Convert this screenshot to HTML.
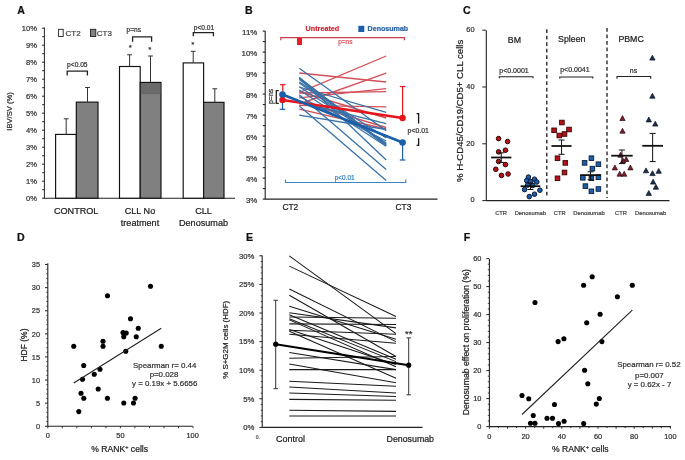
<!DOCTYPE html><html><head><meta charset="utf-8"><title>Figure</title><style>html,body{margin:0;padding:0;background:#fff;overflow:hidden}svg{display:block;filter:blur(0.3px)}text{font-family:"Liberation Sans",sans-serif;stroke:currentColor;stroke-width:0.22px;stroke-linejoin:round}</style></head><body>
<svg width="685" height="460" viewBox="0 0 685 460">
<rect width="685" height="460" fill="#fff"/>
<text x="17.2" y="13.92" font-size="10.6" text-anchor="start" font-weight="bold" fill="#111" color="#111" >A</text>
<line x1="44.4" y1="27.5" x2="44.4" y2="198.7" stroke="#222" stroke-width="1" />
<line x1="44.4" y1="198.2" x2="235" y2="198.2" stroke="#222" stroke-width="1.1" />
<line x1="42.1" y1="198.2" x2="44.4" y2="198.2" stroke="#222" stroke-width="1" />
<text x="37" y="200.94" font-size="7.6" text-anchor="end" font-weight="normal" fill="#333" color="#333" >0%</text>
<line x1="42.2" y1="189.7" x2="44.4" y2="189.7" stroke="#222" stroke-width="1" />
<line x1="42.1" y1="181.2" x2="44.4" y2="181.2" stroke="#222" stroke-width="1" />
<text x="37" y="183.94" font-size="7.6" text-anchor="end" font-weight="normal" fill="#333" color="#333" >1%</text>
<line x1="42.2" y1="172.7" x2="44.4" y2="172.7" stroke="#222" stroke-width="1" />
<line x1="42.1" y1="164.2" x2="44.4" y2="164.2" stroke="#222" stroke-width="1" />
<text x="37" y="166.94" font-size="7.6" text-anchor="end" font-weight="normal" fill="#333" color="#333" >2%</text>
<line x1="42.2" y1="155.7" x2="44.4" y2="155.7" stroke="#222" stroke-width="1" />
<line x1="42.1" y1="147.2" x2="44.4" y2="147.2" stroke="#222" stroke-width="1" />
<text x="37" y="149.94" font-size="7.6" text-anchor="end" font-weight="normal" fill="#333" color="#333" >3%</text>
<line x1="42.2" y1="138.7" x2="44.4" y2="138.7" stroke="#222" stroke-width="1" />
<line x1="42.1" y1="130.2" x2="44.4" y2="130.2" stroke="#222" stroke-width="1" />
<text x="37" y="132.94" font-size="7.6" text-anchor="end" font-weight="normal" fill="#333" color="#333" >4%</text>
<line x1="42.2" y1="121.7" x2="44.4" y2="121.7" stroke="#222" stroke-width="1" />
<line x1="42.1" y1="113.2" x2="44.4" y2="113.2" stroke="#222" stroke-width="1" />
<text x="37" y="115.94" font-size="7.6" text-anchor="end" font-weight="normal" fill="#333" color="#333" >5%</text>
<line x1="42.2" y1="104.7" x2="44.4" y2="104.7" stroke="#222" stroke-width="1" />
<line x1="42.1" y1="96.2" x2="44.4" y2="96.2" stroke="#222" stroke-width="1" />
<text x="37" y="98.94" font-size="7.6" text-anchor="end" font-weight="normal" fill="#333" color="#333" >6%</text>
<line x1="42.2" y1="87.7" x2="44.4" y2="87.7" stroke="#222" stroke-width="1" />
<line x1="42.1" y1="79.2" x2="44.4" y2="79.2" stroke="#222" stroke-width="1" />
<text x="37" y="81.94" font-size="7.6" text-anchor="end" font-weight="normal" fill="#333" color="#333" >7%</text>
<line x1="42.2" y1="70.7" x2="44.4" y2="70.7" stroke="#222" stroke-width="1" />
<line x1="42.1" y1="62.2" x2="44.4" y2="62.2" stroke="#222" stroke-width="1" />
<text x="37" y="64.94" font-size="7.6" text-anchor="end" font-weight="normal" fill="#333" color="#333" >8%</text>
<line x1="42.2" y1="53.7" x2="44.4" y2="53.7" stroke="#222" stroke-width="1" />
<line x1="42.1" y1="45.2" x2="44.4" y2="45.2" stroke="#222" stroke-width="1" />
<text x="37" y="47.94" font-size="7.6" text-anchor="end" font-weight="normal" fill="#333" color="#333" >9%</text>
<line x1="42.2" y1="36.7" x2="44.4" y2="36.7" stroke="#222" stroke-width="1" />
<line x1="42.1" y1="28.2" x2="44.4" y2="28.2" stroke="#222" stroke-width="1" />
<text x="37" y="30.94" font-size="7.6" text-anchor="end" font-weight="normal" fill="#333" color="#333" >10%</text>
<text x="9.5" y="114.24" font-size="7.6" text-anchor="middle" font-weight="normal" fill="#333" color="#333" transform="rotate(-90 9.5 111.5)" >IBV/SV (%)</text>
<rect x="55.6" y="134.4" width="20.7" height="63.8" fill="#fff" stroke="#111" stroke-width="1.15" />
<rect x="76.3" y="102.1" width="21.7" height="96.1" fill="#808080" stroke="#111" stroke-width="1.15" />
<rect x="119.5" y="66.5" width="20.7" height="131.7" fill="#fff" stroke="#111" stroke-width="1.15" />
<rect x="140.2" y="82.4" width="20.8" height="115.8" fill="#808080" stroke="#111" stroke-width="1.15" />
<rect x="183.2" y="62.9" width="20.4" height="135.3" fill="#fff" stroke="#111" stroke-width="1.15" />
<rect x="203.6" y="102.3" width="20.4" height="95.9" fill="#808080" stroke="#111" stroke-width="1.15" />
<rect x="140.9" y="83" width="19.4" height="11.2" fill="#6a6a6a" stroke="none" stroke-width="1" />
<line x1="66.2" y1="118.8" x2="66.2" y2="134.4" stroke="#333" stroke-width="1" />
<line x1="63.8" y1="118.8" x2="68.6" y2="118.8" stroke="#333" stroke-width="1" />
<line x1="87.5" y1="87.5" x2="87.5" y2="102.1" stroke="#333" stroke-width="1" />
<line x1="85.1" y1="87.5" x2="89.9" y2="87.5" stroke="#333" stroke-width="1" />
<line x1="129.6" y1="54.8" x2="129.6" y2="66.5" stroke="#333" stroke-width="1" />
<line x1="127.2" y1="54.8" x2="132" y2="54.8" stroke="#333" stroke-width="1" />
<line x1="150.5" y1="56" x2="150.5" y2="82.4" stroke="#333" stroke-width="1" />
<line x1="148.1" y1="56" x2="152.9" y2="56" stroke="#333" stroke-width="1" />
<line x1="193.2" y1="51.3" x2="193.2" y2="62.9" stroke="#333" stroke-width="1" />
<line x1="190.8" y1="51.3" x2="195.6" y2="51.3" stroke="#333" stroke-width="1" />
<line x1="214.8" y1="88.8" x2="214.8" y2="102.3" stroke="#333" stroke-width="1" />
<line x1="212.4" y1="88.8" x2="217.2" y2="88.8" stroke="#333" stroke-width="1" />
<text x="130.2" y="50.18" font-size="8" text-anchor="middle" font-weight="normal" fill="#333" color="#333" >*</text>
<text x="149.7" y="51.88" font-size="8" text-anchor="middle" font-weight="normal" fill="#333" color="#333" >*</text>
<text x="192.8" y="46.68" font-size="8" text-anchor="middle" font-weight="normal" fill="#333" color="#333" >*</text>
<path d="M67.2 75.6 V71.2 H87.4 V75.6" stroke="#222" stroke-width="1.3" fill="none" />
<text x="77.3" y="66.98" font-size="6.6" text-anchor="middle" font-weight="normal" fill="#333" color="#333" >p&lt;0.05</text>
<path d="M132.6 41.8 V36.8 H151.6 V41.8" stroke="#222" stroke-width="1.3" fill="none" />
<text x="133.8" y="31.98" font-size="6.6" text-anchor="middle" font-weight="normal" fill="#333" color="#333" >p=ns</text>
<path d="M193.3 36.2 V32.7 H213.4 V36.2" stroke="#222" stroke-width="1.3" fill="none" />
<text x="203.9" y="29.78" font-size="6.6" text-anchor="middle" font-weight="normal" fill="#333" color="#333" >p&lt;0.01</text>
<rect x="58.6" y="29.3" width="4.6" height="7.2" fill="#fff" stroke="#222" stroke-width="0.9" />
<text x="65.5" y="36.08" font-size="8" text-anchor="start" font-weight="normal" fill="#444" color="#444" >CT2</text>
<rect x="90.5" y="29.3" width="5.3" height="7.2" fill="#808080" stroke="#222" stroke-width="0.9" />
<text x="96.8" y="36.08" font-size="8" text-anchor="start" font-weight="normal" fill="#444" color="#444" >CT3</text>
<text x="76.2" y="213.98" font-size="9.1" text-anchor="middle" font-weight="normal" fill="#222" color="#222" >CONTROL</text>
<text x="140" y="213.98" font-size="9.1" text-anchor="middle" font-weight="normal" fill="#222" color="#222" >CLL No</text>
<text x="140" y="225.58" font-size="9.1" text-anchor="middle" font-weight="normal" fill="#222" color="#222" >treatment</text>
<text x="203.5" y="213.98" font-size="9.1" text-anchor="middle" font-weight="normal" fill="#222" color="#222" >CLL</text>
<text x="203.5" y="225.58" font-size="9.1" text-anchor="middle" font-weight="normal" fill="#222" color="#222" >Denosumab</text>
<text x="245" y="13.92" font-size="10.6" text-anchor="start" font-weight="bold" fill="#111" color="#111" >B</text>
<line x1="265.2" y1="31" x2="265.2" y2="199.6" stroke="#222" stroke-width="1.1" />
<line x1="265.2" y1="199.1" x2="437.5" y2="199.1" stroke="#222" stroke-width="1.1" />
<line x1="262.7" y1="199.1" x2="265.2" y2="199.1" stroke="#222" stroke-width="1.1" />
<text x="257.3" y="202.74" font-size="7.9" text-anchor="end" font-weight="normal" fill="#333" color="#333" >3%</text>
<line x1="262.8" y1="188.6" x2="265.2" y2="188.6" stroke="#222" stroke-width="1.1" />
<line x1="262.7" y1="178.1" x2="265.2" y2="178.1" stroke="#222" stroke-width="1.1" />
<text x="257.3" y="181.74" font-size="7.9" text-anchor="end" font-weight="normal" fill="#333" color="#333" >4%</text>
<line x1="262.8" y1="167.6" x2="265.2" y2="167.6" stroke="#222" stroke-width="1.1" />
<line x1="262.7" y1="157.1" x2="265.2" y2="157.1" stroke="#222" stroke-width="1.1" />
<text x="257.3" y="160.74" font-size="7.9" text-anchor="end" font-weight="normal" fill="#333" color="#333" >5%</text>
<line x1="262.8" y1="146.6" x2="265.2" y2="146.6" stroke="#222" stroke-width="1.1" />
<line x1="262.7" y1="136.1" x2="265.2" y2="136.1" stroke="#222" stroke-width="1.1" />
<text x="257.3" y="139.74" font-size="7.9" text-anchor="end" font-weight="normal" fill="#333" color="#333" >6%</text>
<line x1="262.8" y1="125.6" x2="265.2" y2="125.6" stroke="#222" stroke-width="1.1" />
<line x1="262.7" y1="115.1" x2="265.2" y2="115.1" stroke="#222" stroke-width="1.1" />
<text x="257.3" y="118.74" font-size="7.9" text-anchor="end" font-weight="normal" fill="#333" color="#333" >7%</text>
<line x1="262.8" y1="104.6" x2="265.2" y2="104.6" stroke="#222" stroke-width="1.1" />
<line x1="262.7" y1="94.1" x2="265.2" y2="94.1" stroke="#222" stroke-width="1.1" />
<text x="257.3" y="97.74" font-size="7.9" text-anchor="end" font-weight="normal" fill="#333" color="#333" >8%</text>
<line x1="262.8" y1="83.6" x2="265.2" y2="83.6" stroke="#222" stroke-width="1.1" />
<line x1="262.7" y1="73.1" x2="265.2" y2="73.1" stroke="#222" stroke-width="1.1" />
<text x="257.3" y="76.74" font-size="7.9" text-anchor="end" font-weight="normal" fill="#333" color="#333" >9%</text>
<line x1="262.8" y1="62.6" x2="265.2" y2="62.6" stroke="#222" stroke-width="1.1" />
<line x1="262.7" y1="52.1" x2="265.2" y2="52.1" stroke="#222" stroke-width="1.1" />
<text x="257.3" y="55.74" font-size="7.9" text-anchor="end" font-weight="normal" fill="#333" color="#333" >10%</text>
<line x1="262.8" y1="41.6" x2="265.2" y2="41.6" stroke="#222" stroke-width="1.1" />
<line x1="262.7" y1="31.1" x2="265.2" y2="31.1" stroke="#222" stroke-width="1.1" />
<text x="257.3" y="34.74" font-size="7.9" text-anchor="end" font-weight="normal" fill="#333" color="#333" >11%</text>
<text x="290.3" y="210.22" font-size="8.4" text-anchor="middle" font-weight="normal" fill="#222" color="#222" >CT2</text>
<text x="403.4" y="210.22" font-size="8.4" text-anchor="middle" font-weight="normal" fill="#222" color="#222" >CT3</text>
<line x1="299.3" y1="92.6" x2="386.2" y2="56" stroke="#d4505a" stroke-width="1.35" />
<line x1="299.3" y1="104" x2="386.2" y2="73.2" stroke="#d4505a" stroke-width="1.35" />
<line x1="299.3" y1="73" x2="386.2" y2="82" stroke="#d4505a" stroke-width="1.35" />
<line x1="299.3" y1="97.9" x2="386.2" y2="88.6" stroke="#d4505a" stroke-width="1.35" />
<line x1="299.3" y1="93" x2="386.2" y2="91.6" stroke="#d4505a" stroke-width="1.35" />
<line x1="299.3" y1="105.3" x2="386.2" y2="106.8" stroke="#d4505a" stroke-width="1.35" />
<line x1="299.3" y1="101.3" x2="386.2" y2="127.5" stroke="#d4505a" stroke-width="1.35" />
<line x1="299.3" y1="109.1" x2="386.2" y2="129" stroke="#d4505a" stroke-width="1.35" />
<line x1="299.3" y1="91.5" x2="386.2" y2="118" stroke="#d4505a" stroke-width="1.35" />
<line x1="299.3" y1="68.2" x2="386.2" y2="130.8" stroke="#3872a8" stroke-width="1.3" />
<line x1="299.3" y1="77.5" x2="386.2" y2="160" stroke="#3872a8" stroke-width="1.3" />
<line x1="299.3" y1="94.8" x2="386.2" y2="169.4" stroke="#3872a8" stroke-width="1.3" />
<line x1="299.3" y1="105.9" x2="386.2" y2="180.5" stroke="#3872a8" stroke-width="1.3" />
<line x1="299.3" y1="87" x2="386.2" y2="112.3" stroke="#3872a8" stroke-width="1.3" />
<line x1="299.3" y1="102" x2="386.2" y2="123.7" stroke="#3872a8" stroke-width="1.3" />
<line x1="299.3" y1="115.1" x2="386.2" y2="129.5" stroke="#3872a8" stroke-width="1.3" />
<line x1="299.3" y1="77.6" x2="386.2" y2="144.6" stroke="#3872a8" stroke-width="1.3" />
<line x1="299.3" y1="78.5" x2="386.2" y2="145.2" stroke="#3872a8" stroke-width="1.3" />
<line x1="299.3" y1="79.5" x2="386.2" y2="145.9" stroke="#3872a8" stroke-width="1.3" />
<line x1="299.3" y1="86.7" x2="386.2" y2="143" stroke="#3872a8" stroke-width="1.3" />
<line x1="299.3" y1="96.5" x2="386.2" y2="141" stroke="#3872a8" stroke-width="1.3" />
<line x1="299.3" y1="82" x2="386.2" y2="138" stroke="#3872a8" stroke-width="1.3" />
<line x1="299.3" y1="83" x2="386.2" y2="143.8" stroke="#3872a8" stroke-width="1.3" />
<line x1="299.3" y1="90" x2="386.2" y2="146.3" stroke="#3872a8" stroke-width="1.3" />
<line x1="282.5" y1="100" x2="402.5" y2="118" stroke="#e8141c" stroke-width="2.6" />
<line x1="282.5" y1="94.5" x2="402.5" y2="142.5" stroke="#1a5fa8" stroke-width="2.8" />
<line x1="282.8" y1="84.7" x2="282.8" y2="100" stroke="#e8141c" stroke-width="1.2" />
<line x1="280" y1="84.7" x2="285.6" y2="84.7" stroke="#e8141c" stroke-width="1.2" />
<line x1="282.5" y1="94.5" x2="282.5" y2="109.3" stroke="#1a5fa8" stroke-width="1.2" />
<line x1="279.7" y1="109.3" x2="285.3" y2="109.3" stroke="#1a5fa8" stroke-width="1.2" />
<line x1="402.6" y1="86.5" x2="402.6" y2="118" stroke="#e8141c" stroke-width="1.2" />
<line x1="399.8" y1="86.5" x2="405.4" y2="86.5" stroke="#e8141c" stroke-width="1.2" />
<line x1="402.6" y1="142.5" x2="402.6" y2="160" stroke="#1a5fa8" stroke-width="1.2" />
<line x1="399.8" y1="160" x2="405.4" y2="160" stroke="#1a5fa8" stroke-width="1.2" />
<circle cx="282.5" cy="100" r="3.2" fill="#e8141c" stroke="none" stroke-width="1"/>
<circle cx="282.5" cy="94.5" r="3.3" fill="#1a5fa8" stroke="none" stroke-width="1"/>
<circle cx="402.6" cy="118" r="3.2" fill="#e8141c" stroke="none" stroke-width="1"/>
<circle cx="402.6" cy="142.5" r="3.3" fill="#1a5fa8" stroke="none" stroke-width="1"/>
<text x="322.4" y="31.39" font-size="7.2" text-anchor="middle" font-weight="bold" fill="#d42a3a" color="#d42a3a" >Untreated</text>
<rect x="358.3" y="25.8" width="6" height="6.2" fill="#1a5fa8" stroke="none" stroke-width="1" />
<text x="367.6" y="31.36" font-size="7.1" text-anchor="start" font-weight="bold" fill="#2c64a6" color="#2c64a6" >Denosumab</text>
<path d="M280.8 40.2 V37.6 H404.4 V40.2" stroke="#c8404c" stroke-width="1.2" fill="none" />
<rect x="297" y="38" width="5" height="7" fill="#ee1c24" stroke="none" stroke-width="1" />
<text x="345.3" y="43.64" font-size="6.5" text-anchor="middle" font-weight="normal" fill="#e0555a" color="#e0555a" >p=ns</text>
<path d="M285.5 179.5 V182.5 H405.8 V179.5" stroke="#3a84c4" stroke-width="1.1" fill="none" />
<text x="344.7" y="179.84" font-size="6.5" text-anchor="middle" font-weight="normal" fill="#3a84c4" color="#3a84c4" >p&lt;0.01</text>
<path d="M278.8 90.6 H276.3 V103.3 H278.8" stroke="#222" stroke-width="1.3" fill="none" />
<text x="270.2" y="98.88" font-size="6.9" text-anchor="middle" font-weight="normal" fill="#333" color="#333" transform="rotate(-90 270.2 96.4)" >p=ns</text>
<path d="M416.6 113.6 H418.6 V123.5" stroke="#1a1a1a" stroke-width="1.35" fill="none" />
<path d="M418.6 138.3 V145.4 H416.6" stroke="#1a1a1a" stroke-width="1.35" fill="none" />
<text x="418.2" y="132.78" font-size="6.9" text-anchor="middle" font-weight="normal" fill="#333" color="#333" >p&lt;0.01</text>
<text x="463" y="13.92" font-size="10.6" text-anchor="start" font-weight="bold" fill="#111" color="#111" >C</text>
<line x1="486.3" y1="30.5" x2="486.3" y2="201.1" stroke="#222" stroke-width="1.1" />
<line x1="486.3" y1="200.6" x2="669.5" y2="200.6" stroke="#222" stroke-width="1.1" />
<line x1="482.3" y1="200.6" x2="486.3" y2="200.6" stroke="#222" stroke-width="1" />
<text x="474.6" y="202.46" font-size="7.4" text-anchor="end" font-weight="normal" fill="#333" color="#333" >0</text>
<line x1="482.3" y1="143.8" x2="486.3" y2="143.8" stroke="#222" stroke-width="1" />
<text x="474.6" y="145.66" font-size="7.4" text-anchor="end" font-weight="normal" fill="#333" color="#333" >20</text>
<line x1="482.3" y1="87" x2="486.3" y2="87" stroke="#222" stroke-width="1" />
<text x="474.6" y="88.86" font-size="7.4" text-anchor="end" font-weight="normal" fill="#333" color="#333" >40</text>
<line x1="482.3" y1="30.2" x2="486.3" y2="30.2" stroke="#222" stroke-width="1" />
<text x="474.6" y="32.06" font-size="7.4" text-anchor="end" font-weight="normal" fill="#333" color="#333" >60</text>
<text x="459.8" y="114.36" font-size="9.6" text-anchor="middle" font-weight="normal" fill="#222" color="#222" transform="rotate(-90 459.8 110.9)" >% H-CD45/CD19/CD5+ CLL cells</text>
<line x1="546.8" y1="29.2" x2="546.8" y2="198" stroke="#1a1a1a" stroke-width="1.3" stroke-dasharray="3.8 2.7"/>
<line x1="607" y1="28" x2="607" y2="198" stroke="#1a1a1a" stroke-width="1.3" stroke-dasharray="3.8 2.7"/>
<text x="514.4" y="42.67" font-size="8.8" text-anchor="middle" font-weight="normal" fill="#222" color="#222" >BM</text>
<text x="571.8" y="42.27" font-size="8.8" text-anchor="middle" font-weight="normal" fill="#222" color="#222" >Spleen</text>
<text x="631.1" y="42.27" font-size="8.8" text-anchor="middle" font-weight="normal" fill="#222" color="#222" >PBMC</text>
<text x="514" y="73.32" font-size="7" text-anchor="middle" font-weight="normal" fill="#333" color="#333" >p&lt;0.0001</text>
<path d="M499.3 78.3 V76.8 H533 V78.3" stroke="#222" stroke-width="1.1" fill="none" />
<text x="574.9" y="72.12" font-size="7" text-anchor="middle" font-weight="normal" fill="#333" color="#333" >p&lt;0.0041</text>
<path d="M559.8 78.5 V77 H592.8 V78.5" stroke="#222" stroke-width="1.1" fill="none" />
<text x="633.5" y="72.52" font-size="7" text-anchor="middle" font-weight="normal" fill="#333" color="#333" >ns</text>
<path d="M617 78.7 V76.5 H650.7 V78.7" stroke="#222" stroke-width="1.1" fill="none" />
<circle cx="498.6" cy="138.6" r="2.3" fill="#b81218" stroke="#300404" stroke-width="1.0"/>
<circle cx="507.6" cy="141.5" r="2.3" fill="#b81218" stroke="#300404" stroke-width="1.0"/>
<circle cx="498.6" cy="151.9" r="2.3" fill="#b81218" stroke="#300404" stroke-width="1.0"/>
<circle cx="505.5" cy="150.2" r="2.3" fill="#b81218" stroke="#300404" stroke-width="1.0"/>
<circle cx="498.6" cy="161.5" r="2.3" fill="#b81218" stroke="#300404" stroke-width="1.0"/>
<circle cx="505.5" cy="164.6" r="2.3" fill="#b81218" stroke="#300404" stroke-width="1.0"/>
<circle cx="495.8" cy="169.3" r="2.3" fill="#b81218" stroke="#300404" stroke-width="1.0"/>
<circle cx="501.5" cy="175.4" r="2.3" fill="#b81218" stroke="#300404" stroke-width="1.0"/>
<circle cx="508.1" cy="174" r="2.3" fill="#b81218" stroke="#300404" stroke-width="1.0"/>
<circle cx="528.4" cy="177.1" r="2.3" fill="#1f5ca6" stroke="#081a36" stroke-width="1.0"/>
<circle cx="534.5" cy="179.2" r="2.3" fill="#1f5ca6" stroke="#081a36" stroke-width="1.0"/>
<circle cx="526.7" cy="180.6" r="2.3" fill="#1f5ca6" stroke="#081a36" stroke-width="1.0"/>
<circle cx="530.5" cy="181.5" r="2.3" fill="#1f5ca6" stroke="#081a36" stroke-width="1.0"/>
<circle cx="536.8" cy="182" r="2.3" fill="#1f5ca6" stroke="#081a36" stroke-width="1.0"/>
<circle cx="527.6" cy="185" r="2.3" fill="#1f5ca6" stroke="#081a36" stroke-width="1.0"/>
<circle cx="532.8" cy="185.5" r="2.3" fill="#1f5ca6" stroke="#081a36" stroke-width="1.0"/>
<circle cx="524.6" cy="189.6" r="2.3" fill="#1f5ca6" stroke="#081a36" stroke-width="1.0"/>
<circle cx="539.9" cy="190.2" r="2.3" fill="#1f5ca6" stroke="#081a36" stroke-width="1.0"/>
<circle cx="534.5" cy="194.2" r="2.3" fill="#1f5ca6" stroke="#081a36" stroke-width="1.0"/>
<circle cx="529.3" cy="196.6" r="2.3" fill="#1f5ca6" stroke="#081a36" stroke-width="1.0"/>
<line x1="491.1" y1="157.5" x2="511.4" y2="157.5" stroke="#111" stroke-width="1.8" />
<line x1="501.25" y1="152.8" x2="501.25" y2="162.4" stroke="#111" stroke-width="1" />
<line x1="498.25" y1="152.8" x2="504.25" y2="152.8" stroke="#111" stroke-width="1" />
<line x1="498.25" y1="162.4" x2="504.25" y2="162.4" stroke="#111" stroke-width="1" />
<line x1="520.6" y1="186.2" x2="540.3" y2="186.2" stroke="#111" stroke-width="1.8" />
<line x1="530.45" y1="183" x2="530.45" y2="189.5" stroke="#111" stroke-width="1" />
<line x1="527.45" y1="183" x2="533.45" y2="183" stroke="#111" stroke-width="1" />
<line x1="527.45" y1="189.5" x2="533.45" y2="189.5" stroke="#111" stroke-width="1" />
<rect x="559.6" y="120.2" width="4.6" height="4.6" fill="#b81218" stroke="#3a0505" stroke-width="0.9" />
<rect x="551.8" y="128" width="4.6" height="4.6" fill="#b81218" stroke="#3a0505" stroke-width="0.9" />
<rect x="566.7" y="127.2" width="4.6" height="4.6" fill="#b81218" stroke="#3a0505" stroke-width="0.9" />
<rect x="557" y="133.2" width="4.6" height="4.6" fill="#b81218" stroke="#3a0505" stroke-width="0.9" />
<rect x="562.2" y="131.7" width="4.6" height="4.6" fill="#b81218" stroke="#3a0505" stroke-width="0.9" />
<rect x="555.2" y="155.9" width="4.6" height="4.6" fill="#b81218" stroke="#3a0505" stroke-width="0.9" />
<rect x="563" y="160.6" width="4.6" height="4.6" fill="#b81218" stroke="#3a0505" stroke-width="0.9" />
<rect x="562.2" y="170.2" width="4.6" height="4.6" fill="#b81218" stroke="#3a0505" stroke-width="0.9" />
<rect x="555.2" y="176" width="4.6" height="4.6" fill="#b81218" stroke="#3a0505" stroke-width="0.9" />
<rect x="589.1" y="155.9" width="4.6" height="4.6" fill="#1f5ca6" stroke="#0a2040" stroke-width="0.9" />
<rect x="582.3" y="160.6" width="4.6" height="4.6" fill="#1f5ca6" stroke="#0a2040" stroke-width="0.9" />
<rect x="596.1" y="161.9" width="4.6" height="4.6" fill="#1f5ca6" stroke="#0a2040" stroke-width="0.9" />
<rect x="590.1" y="166.3" width="4.6" height="4.6" fill="#1f5ca6" stroke="#0a2040" stroke-width="0.9" />
<rect x="580.5" y="175.5" width="4.6" height="4.6" fill="#1f5ca6" stroke="#0a2040" stroke-width="0.9" />
<rect x="596.1" y="174.9" width="4.6" height="4.6" fill="#1f5ca6" stroke="#0a2040" stroke-width="0.9" />
<rect x="589.1" y="176" width="4.6" height="4.6" fill="#1f5ca6" stroke="#0a2040" stroke-width="0.9" />
<rect x="583.1" y="183.8" width="4.6" height="4.6" fill="#1f5ca6" stroke="#0a2040" stroke-width="0.9" />
<rect x="596.1" y="186.7" width="4.6" height="4.6" fill="#1f5ca6" stroke="#0a2040" stroke-width="0.9" />
<rect x="589.1" y="189" width="4.6" height="4.6" fill="#1f5ca6" stroke="#0a2040" stroke-width="0.9" />
<line x1="551.5" y1="146" x2="571.6" y2="146" stroke="#111" stroke-width="1.8" />
<line x1="561.55" y1="140" x2="561.55" y2="154.3" stroke="#111" stroke-width="1" />
<line x1="558.55" y1="140" x2="564.55" y2="140" stroke="#111" stroke-width="1" />
<line x1="558.55" y1="154.3" x2="564.55" y2="154.3" stroke="#111" stroke-width="1" />
<line x1="580.2" y1="175.1" x2="601" y2="175.1" stroke="#111" stroke-width="1.8" />
<line x1="590.6" y1="171.8" x2="590.6" y2="179.8" stroke="#111" stroke-width="1" />
<line x1="587.6" y1="171.8" x2="593.6" y2="171.8" stroke="#111" stroke-width="1" />
<line x1="587.6" y1="179.8" x2="593.6" y2="179.8" stroke="#111" stroke-width="1" />
<path d="M622.5 115.6 L625.16 120.5 L619.84 120.5 Z" stroke="#2a0a10" stroke-width="0.7" fill="#7a1f2c" />
<path d="M622.5 128.3 L625.16 133.2 L619.84 133.2 Z" stroke="#2a0a10" stroke-width="0.7" fill="#7a1f2c" />
<path d="M620.5 152.3 L623.16 157.2 L617.84 157.2 Z" stroke="#2a0a10" stroke-width="0.7" fill="#7a1f2c" />
<path d="M626.2 156.6 L628.86 161.5 L623.54 161.5 Z" stroke="#2a0a10" stroke-width="0.7" fill="#7a1f2c" />
<path d="M614.9 165 L617.56 169.9 L612.24 169.9 Z" stroke="#2a0a10" stroke-width="0.7" fill="#7a1f2c" />
<path d="M630.4 165 L633.06 169.9 L627.74 169.9 Z" stroke="#2a0a10" stroke-width="0.7" fill="#7a1f2c" />
<path d="M619.7 171.3 L622.36 176.2 L617.04 176.2 Z" stroke="#2a0a10" stroke-width="0.7" fill="#7a1f2c" />
<path d="M624.2 171.3 L626.86 176.2 L621.54 176.2 Z" stroke="#2a0a10" stroke-width="0.7" fill="#7a1f2c" />
<path d="M623 158.2 L625.66 163.1 L620.34 163.1 Z" stroke="#2a0a10" stroke-width="0.7" fill="#7a1f2c" />
<path d="M652.4 55.2 L655.06 60.1 L649.74 60.1 Z" stroke="#0a1424" stroke-width="0.7" fill="#1c2f4d" />
<path d="M652.4 93.3 L655.06 98.2 L649.74 98.2 Z" stroke="#0a1424" stroke-width="0.7" fill="#1c2f4d" />
<path d="M648.8 117 L651.46 121.9 L646.14 121.9 Z" stroke="#0a1424" stroke-width="0.7" fill="#1c2f4d" />
<path d="M655.3 121.2 L657.96 126.1 L652.64 126.1 Z" stroke="#0a1424" stroke-width="0.7" fill="#1c2f4d" />
<path d="M646 167.9 L648.66 172.8 L643.34 172.8 Z" stroke="#0a1424" stroke-width="0.7" fill="#1c2f4d" />
<path d="M652.5 170.7 L655.16 175.6 L649.84 175.6 Z" stroke="#0a1424" stroke-width="0.7" fill="#1c2f4d" />
<path d="M658.7 168.4 L661.36 173.3 L656.04 173.3 Z" stroke="#0a1424" stroke-width="0.7" fill="#1c2f4d" />
<path d="M653.1 179.2 L655.76 184.1 L650.44 184.1 Z" stroke="#0a1424" stroke-width="0.7" fill="#1c2f4d" />
<path d="M655.9 184.3 L658.56 189.2 L653.24 189.2 Z" stroke="#0a1424" stroke-width="0.7" fill="#1c2f4d" />
<path d="M648.8 190.5 L651.46 195.4 L646.14 195.4 Z" stroke="#0a1424" stroke-width="0.7" fill="#1c2f4d" />
<line x1="611.2" y1="155.7" x2="632.7" y2="155.7" stroke="#111" stroke-width="1.8" />
<line x1="621.95" y1="150" x2="621.95" y2="163.6" stroke="#111" stroke-width="1" />
<line x1="618.95" y1="150" x2="624.95" y2="150" stroke="#111" stroke-width="1" />
<line x1="618.95" y1="163.6" x2="624.95" y2="163.6" stroke="#111" stroke-width="1" />
<line x1="642.3" y1="145.8" x2="663" y2="145.8" stroke="#111" stroke-width="1.8" />
<line x1="652.65" y1="133.4" x2="652.65" y2="161.6" stroke="#111" stroke-width="1" />
<line x1="649.65" y1="133.4" x2="655.65" y2="133.4" stroke="#111" stroke-width="1" />
<line x1="649.65" y1="161.6" x2="655.65" y2="161.6" stroke="#111" stroke-width="1" />
<text x="501.1" y="215.39" font-size="5.8" text-anchor="middle" font-weight="normal" fill="#444" color="#444" >CTR</text>
<text x="559.8" y="215.39" font-size="5.8" text-anchor="middle" font-weight="normal" fill="#444" color="#444" >CTR</text>
<text x="621" y="215.39" font-size="5.8" text-anchor="middle" font-weight="normal" fill="#444" color="#444" >CTR</text>
<text x="530.3" y="215.39" font-size="5.8" text-anchor="middle" font-weight="normal" fill="#444" color="#444" >Denosumab</text>
<text x="589" y="215.39" font-size="5.8" text-anchor="middle" font-weight="normal" fill="#444" color="#444" >Denosumab</text>
<text x="650.7" y="215.39" font-size="5.8" text-anchor="middle" font-weight="normal" fill="#444" color="#444" >Denosumab</text>
<text x="17" y="240.62" font-size="10.6" text-anchor="start" font-weight="bold" fill="#111" color="#111" >D</text>
<line x1="47.8" y1="263.3" x2="47.8" y2="426.75" stroke="#222" stroke-width="1.1" />
<line x1="47.8" y1="426.25" x2="192.8" y2="426.25" stroke="#222" stroke-width="1.1" />
<line x1="45" y1="426.25" x2="47.8" y2="426.25" stroke="#222" stroke-width="1" />
<text x="40" y="428.91" font-size="7.4" text-anchor="end" font-weight="normal" fill="#333" color="#333" >0</text>
<line x1="46.3" y1="421.63" x2="47.8" y2="421.63" stroke="#222" stroke-width="0.8" />
<line x1="46.3" y1="417.01" x2="47.8" y2="417.01" stroke="#222" stroke-width="0.8" />
<line x1="46.3" y1="412.39" x2="47.8" y2="412.39" stroke="#222" stroke-width="0.8" />
<line x1="46.3" y1="407.77" x2="47.8" y2="407.77" stroke="#222" stroke-width="0.8" />
<line x1="45" y1="403.15" x2="47.8" y2="403.15" stroke="#222" stroke-width="1" />
<text x="40" y="405.81" font-size="7.4" text-anchor="end" font-weight="normal" fill="#333" color="#333" >5</text>
<line x1="46.3" y1="398.53" x2="47.8" y2="398.53" stroke="#222" stroke-width="0.8" />
<line x1="46.3" y1="393.91" x2="47.8" y2="393.91" stroke="#222" stroke-width="0.8" />
<line x1="46.3" y1="389.29" x2="47.8" y2="389.29" stroke="#222" stroke-width="0.8" />
<line x1="46.3" y1="384.67" x2="47.8" y2="384.67" stroke="#222" stroke-width="0.8" />
<line x1="45" y1="380.05" x2="47.8" y2="380.05" stroke="#222" stroke-width="1" />
<text x="40" y="382.71" font-size="7.4" text-anchor="end" font-weight="normal" fill="#333" color="#333" >10</text>
<line x1="46.3" y1="375.43" x2="47.8" y2="375.43" stroke="#222" stroke-width="0.8" />
<line x1="46.3" y1="370.81" x2="47.8" y2="370.81" stroke="#222" stroke-width="0.8" />
<line x1="46.3" y1="366.19" x2="47.8" y2="366.19" stroke="#222" stroke-width="0.8" />
<line x1="46.3" y1="361.57" x2="47.8" y2="361.57" stroke="#222" stroke-width="0.8" />
<line x1="45" y1="356.95" x2="47.8" y2="356.95" stroke="#222" stroke-width="1" />
<text x="40" y="359.61" font-size="7.4" text-anchor="end" font-weight="normal" fill="#333" color="#333" >15</text>
<line x1="46.3" y1="352.33" x2="47.8" y2="352.33" stroke="#222" stroke-width="0.8" />
<line x1="46.3" y1="347.71" x2="47.8" y2="347.71" stroke="#222" stroke-width="0.8" />
<line x1="46.3" y1="343.09" x2="47.8" y2="343.09" stroke="#222" stroke-width="0.8" />
<line x1="46.3" y1="338.47" x2="47.8" y2="338.47" stroke="#222" stroke-width="0.8" />
<line x1="45" y1="333.85" x2="47.8" y2="333.85" stroke="#222" stroke-width="1" />
<text x="40" y="336.51" font-size="7.4" text-anchor="end" font-weight="normal" fill="#333" color="#333" >20</text>
<line x1="46.3" y1="329.23" x2="47.8" y2="329.23" stroke="#222" stroke-width="0.8" />
<line x1="46.3" y1="324.61" x2="47.8" y2="324.61" stroke="#222" stroke-width="0.8" />
<line x1="46.3" y1="319.99" x2="47.8" y2="319.99" stroke="#222" stroke-width="0.8" />
<line x1="46.3" y1="315.37" x2="47.8" y2="315.37" stroke="#222" stroke-width="0.8" />
<line x1="45" y1="310.75" x2="47.8" y2="310.75" stroke="#222" stroke-width="1" />
<text x="40" y="313.41" font-size="7.4" text-anchor="end" font-weight="normal" fill="#333" color="#333" >25</text>
<line x1="46.3" y1="306.13" x2="47.8" y2="306.13" stroke="#222" stroke-width="0.8" />
<line x1="46.3" y1="301.51" x2="47.8" y2="301.51" stroke="#222" stroke-width="0.8" />
<line x1="46.3" y1="296.89" x2="47.8" y2="296.89" stroke="#222" stroke-width="0.8" />
<line x1="46.3" y1="292.27" x2="47.8" y2="292.27" stroke="#222" stroke-width="0.8" />
<line x1="45" y1="287.65" x2="47.8" y2="287.65" stroke="#222" stroke-width="1" />
<text x="40" y="290.31" font-size="7.4" text-anchor="end" font-weight="normal" fill="#333" color="#333" >30</text>
<line x1="46.3" y1="283.03" x2="47.8" y2="283.03" stroke="#222" stroke-width="0.8" />
<line x1="46.3" y1="278.41" x2="47.8" y2="278.41" stroke="#222" stroke-width="0.8" />
<line x1="46.3" y1="273.79" x2="47.8" y2="273.79" stroke="#222" stroke-width="0.8" />
<line x1="46.3" y1="269.17" x2="47.8" y2="269.17" stroke="#222" stroke-width="0.8" />
<line x1="45" y1="264.55" x2="47.8" y2="264.55" stroke="#222" stroke-width="1" />
<text x="40" y="267.21" font-size="7.4" text-anchor="end" font-weight="normal" fill="#333" color="#333" >35</text>
<line x1="47.8" y1="426.25" x2="47.8" y2="428.25" stroke="#222" stroke-width="0.9" />
<line x1="62.32" y1="426.25" x2="62.32" y2="428.25" stroke="#222" stroke-width="0.9" />
<line x1="76.84" y1="426.25" x2="76.84" y2="428.25" stroke="#222" stroke-width="0.9" />
<line x1="91.36" y1="426.25" x2="91.36" y2="428.25" stroke="#222" stroke-width="0.9" />
<line x1="105.88" y1="426.25" x2="105.88" y2="428.25" stroke="#222" stroke-width="0.9" />
<line x1="120.4" y1="426.25" x2="120.4" y2="428.25" stroke="#222" stroke-width="0.9" />
<line x1="134.92" y1="426.25" x2="134.92" y2="428.25" stroke="#222" stroke-width="0.9" />
<line x1="149.44" y1="426.25" x2="149.44" y2="428.25" stroke="#222" stroke-width="0.9" />
<line x1="163.96" y1="426.25" x2="163.96" y2="428.25" stroke="#222" stroke-width="0.9" />
<line x1="178.48" y1="426.25" x2="178.48" y2="428.25" stroke="#222" stroke-width="0.9" />
<line x1="193" y1="426.25" x2="193" y2="428.25" stroke="#222" stroke-width="0.9" />
<text x="47.8" y="438.46" font-size="7.4" text-anchor="middle" font-weight="normal" fill="#333" color="#333" >0</text>
<text x="120.4" y="438.46" font-size="7.4" text-anchor="middle" font-weight="normal" fill="#333" color="#333" >50</text>
<text x="192.6" y="438.46" font-size="7.4" text-anchor="middle" font-weight="normal" fill="#333" color="#333" >100</text>
<text x="119.7" y="451.88" font-size="8.6" text-anchor="middle" fill="#222" color="#222">% RANK<tspan font-size="5.5" dy="-3">+</tspan><tspan dy="3"> cells</tspan></text>
<text x="23.6" y="348.06" font-size="8.5" text-anchor="middle" font-weight="normal" fill="#222" color="#222" transform="rotate(-90 23.6 345)" >HDF (%)</text>
<circle cx="73.75" cy="346.25" r="2.55" fill="#000" stroke="none" stroke-width="1"/>
<circle cx="83.75" cy="365.5" r="2.55" fill="#000" stroke="none" stroke-width="1"/>
<circle cx="82.5" cy="379.25" r="2.55" fill="#000" stroke="none" stroke-width="1"/>
<circle cx="94.25" cy="374.25" r="2.55" fill="#000" stroke="none" stroke-width="1"/>
<circle cx="100" cy="369.25" r="2.55" fill="#000" stroke="none" stroke-width="1"/>
<circle cx="81" cy="393.3" r="2.55" fill="#000" stroke="none" stroke-width="1"/>
<circle cx="83.8" cy="398.3" r="2.55" fill="#000" stroke="none" stroke-width="1"/>
<circle cx="98.2" cy="389" r="2.55" fill="#000" stroke="none" stroke-width="1"/>
<circle cx="107.4" cy="398.3" r="2.55" fill="#000" stroke="none" stroke-width="1"/>
<circle cx="78.8" cy="411.6" r="2.55" fill="#000" stroke="none" stroke-width="1"/>
<circle cx="103" cy="346.25" r="2.55" fill="#000" stroke="none" stroke-width="1"/>
<circle cx="103" cy="341.25" r="2.55" fill="#000" stroke="none" stroke-width="1"/>
<circle cx="150.5" cy="286.25" r="2.55" fill="#000" stroke="none" stroke-width="1"/>
<circle cx="107.5" cy="295.75" r="2.55" fill="#000" stroke="none" stroke-width="1"/>
<circle cx="130.5" cy="318.75" r="2.55" fill="#000" stroke="none" stroke-width="1"/>
<circle cx="138.25" cy="328.25" r="2.55" fill="#000" stroke="none" stroke-width="1"/>
<circle cx="123" cy="332.5" r="2.55" fill="#000" stroke="none" stroke-width="1"/>
<circle cx="126.25" cy="333" r="2.55" fill="#000" stroke="none" stroke-width="1"/>
<circle cx="123.75" cy="336.75" r="2.55" fill="#000" stroke="none" stroke-width="1"/>
<circle cx="136.25" cy="336.75" r="2.55" fill="#000" stroke="none" stroke-width="1"/>
<circle cx="161.25" cy="346.25" r="2.55" fill="#000" stroke="none" stroke-width="1"/>
<circle cx="125.75" cy="351.25" r="2.55" fill="#000" stroke="none" stroke-width="1"/>
<circle cx="123.8" cy="403" r="2.55" fill="#000" stroke="none" stroke-width="1"/>
<circle cx="133.5" cy="403" r="2.55" fill="#000" stroke="none" stroke-width="1"/>
<circle cx="135.1" cy="398.3" r="2.55" fill="#000" stroke="none" stroke-width="1"/>
<line x1="73.75" y1="383" x2="161.25" y2="328.25" stroke="#222" stroke-width="1.1" />
<text x="164.7" y="367.84" font-size="7.9" text-anchor="middle" font-weight="normal" fill="#333" color="#333" >Spearman r= 0.44</text>
<text x="164" y="377.34" font-size="7.9" text-anchor="middle" font-weight="normal" fill="#333" color="#333" >p=0.028</text>
<text x="164.7" y="386.24" font-size="7.9" text-anchor="middle" font-weight="normal" fill="#333" color="#333" >y = 0.19x + 5.6656</text>
<text x="246" y="241.02" font-size="10.6" text-anchor="start" font-weight="bold" fill="#111" color="#111" >E</text>
<line x1="262.2" y1="255.5" x2="262.2" y2="427.9" stroke="#222" stroke-width="1.1" />
<line x1="262.2" y1="427.4" x2="422.5" y2="427.4" stroke="#222" stroke-width="1.1" />
<line x1="259.4" y1="427.4" x2="262.2" y2="427.4" stroke="#222" stroke-width="1" />
<text x="254.4" y="430.17" font-size="7.7" text-anchor="end" font-weight="normal" fill="#333" color="#333" >0%</text>
<line x1="260.7" y1="421.68" x2="262.2" y2="421.68" stroke="#222" stroke-width="0.8" />
<line x1="260.7" y1="415.96" x2="262.2" y2="415.96" stroke="#222" stroke-width="0.8" />
<line x1="260.7" y1="410.24" x2="262.2" y2="410.24" stroke="#222" stroke-width="0.8" />
<line x1="260.7" y1="404.52" x2="262.2" y2="404.52" stroke="#222" stroke-width="0.8" />
<line x1="259.4" y1="398.8" x2="262.2" y2="398.8" stroke="#222" stroke-width="1" />
<text x="254.4" y="401.57" font-size="7.7" text-anchor="end" font-weight="normal" fill="#333" color="#333" >5%</text>
<line x1="260.7" y1="393.08" x2="262.2" y2="393.08" stroke="#222" stroke-width="0.8" />
<line x1="260.7" y1="387.36" x2="262.2" y2="387.36" stroke="#222" stroke-width="0.8" />
<line x1="260.7" y1="381.64" x2="262.2" y2="381.64" stroke="#222" stroke-width="0.8" />
<line x1="260.7" y1="375.92" x2="262.2" y2="375.92" stroke="#222" stroke-width="0.8" />
<line x1="259.4" y1="370.2" x2="262.2" y2="370.2" stroke="#222" stroke-width="1" />
<text x="254.4" y="372.97" font-size="7.7" text-anchor="end" font-weight="normal" fill="#333" color="#333" >10%</text>
<line x1="260.7" y1="364.48" x2="262.2" y2="364.48" stroke="#222" stroke-width="0.8" />
<line x1="260.7" y1="358.76" x2="262.2" y2="358.76" stroke="#222" stroke-width="0.8" />
<line x1="260.7" y1="353.04" x2="262.2" y2="353.04" stroke="#222" stroke-width="0.8" />
<line x1="260.7" y1="347.32" x2="262.2" y2="347.32" stroke="#222" stroke-width="0.8" />
<line x1="259.4" y1="341.6" x2="262.2" y2="341.6" stroke="#222" stroke-width="1" />
<text x="254.4" y="344.37" font-size="7.7" text-anchor="end" font-weight="normal" fill="#333" color="#333" >15%</text>
<line x1="260.7" y1="335.88" x2="262.2" y2="335.88" stroke="#222" stroke-width="0.8" />
<line x1="260.7" y1="330.16" x2="262.2" y2="330.16" stroke="#222" stroke-width="0.8" />
<line x1="260.7" y1="324.44" x2="262.2" y2="324.44" stroke="#222" stroke-width="0.8" />
<line x1="260.7" y1="318.72" x2="262.2" y2="318.72" stroke="#222" stroke-width="0.8" />
<line x1="259.4" y1="313" x2="262.2" y2="313" stroke="#222" stroke-width="1" />
<text x="254.4" y="315.77" font-size="7.7" text-anchor="end" font-weight="normal" fill="#333" color="#333" >20%</text>
<line x1="260.7" y1="307.28" x2="262.2" y2="307.28" stroke="#222" stroke-width="0.8" />
<line x1="260.7" y1="301.56" x2="262.2" y2="301.56" stroke="#222" stroke-width="0.8" />
<line x1="260.7" y1="295.84" x2="262.2" y2="295.84" stroke="#222" stroke-width="0.8" />
<line x1="260.7" y1="290.12" x2="262.2" y2="290.12" stroke="#222" stroke-width="0.8" />
<line x1="259.4" y1="284.4" x2="262.2" y2="284.4" stroke="#222" stroke-width="1" />
<text x="254.4" y="287.17" font-size="7.7" text-anchor="end" font-weight="normal" fill="#333" color="#333" >25%</text>
<line x1="260.7" y1="278.68" x2="262.2" y2="278.68" stroke="#222" stroke-width="0.8" />
<line x1="260.7" y1="272.96" x2="262.2" y2="272.96" stroke="#222" stroke-width="0.8" />
<line x1="260.7" y1="267.24" x2="262.2" y2="267.24" stroke="#222" stroke-width="0.8" />
<line x1="260.7" y1="261.52" x2="262.2" y2="261.52" stroke="#222" stroke-width="0.8" />
<line x1="259.4" y1="255.8" x2="262.2" y2="255.8" stroke="#222" stroke-width="1" />
<text x="254.4" y="258.57" font-size="7.7" text-anchor="end" font-weight="normal" fill="#333" color="#333" >30%</text>
<text x="257.9" y="439.2" font-size="5" text-anchor="middle" font-weight="normal" fill="#555" color="#555" >0.</text>
<text x="290.6" y="442.04" font-size="9" text-anchor="middle" font-weight="normal" fill="#222" color="#222" >Control</text>
<text x="410.3" y="441.97" font-size="8.8" text-anchor="middle" font-weight="normal" fill="#222" color="#222" >Denosumab</text>
<text x="225.3" y="342.64" font-size="7.9" text-anchor="middle" font-weight="normal" fill="#222" color="#222" transform="rotate(-90 225.3 339.8)" >% S+G2M cells (HDF)</text>
<line x1="289.3" y1="255.8" x2="396" y2="333.59" stroke="#1a1a1a" stroke-width="1.05" />
<line x1="289.3" y1="266.1" x2="396" y2="316.43" stroke="#1a1a1a" stroke-width="1.05" />
<line x1="289.3" y1="288.98" x2="396" y2="341.6" stroke="#1a1a1a" stroke-width="1.05" />
<line x1="289.3" y1="295.27" x2="396" y2="356.47" stroke="#1a1a1a" stroke-width="1.05" />
<line x1="289.3" y1="306.14" x2="396" y2="339.31" stroke="#1a1a1a" stroke-width="1.05" />
<line x1="289.3" y1="312.71" x2="396" y2="327.87" stroke="#1a1a1a" stroke-width="1.05" />
<line x1="289.3" y1="314.72" x2="396" y2="359.33" stroke="#1a1a1a" stroke-width="1.05" />
<line x1="289.3" y1="317" x2="396" y2="318.15" stroke="#1a1a1a" stroke-width="1.05" />
<line x1="289.3" y1="318.72" x2="396" y2="361.62" stroke="#1a1a1a" stroke-width="1.05" />
<line x1="289.3" y1="319.86" x2="396" y2="366.77" stroke="#1a1a1a" stroke-width="1.05" />
<line x1="289.3" y1="323.87" x2="396" y2="324.44" stroke="#1a1a1a" stroke-width="1.05" />
<line x1="289.3" y1="329.59" x2="396" y2="364.48" stroke="#1a1a1a" stroke-width="1.05" />
<line x1="289.3" y1="331.3" x2="396" y2="378.21" stroke="#1a1a1a" stroke-width="1.05" />
<line x1="289.3" y1="352.47" x2="396" y2="369.63" stroke="#1a1a1a" stroke-width="1.05" />
<line x1="289.3" y1="358.19" x2="396" y2="356.47" stroke="#1a1a1a" stroke-width="1.05" />
<line x1="289.3" y1="363.91" x2="396" y2="382.78" stroke="#1a1a1a" stroke-width="1.05" />
<line x1="289.3" y1="369.63" x2="396" y2="369.63" stroke="#1a1a1a" stroke-width="1.05" />
<line x1="289.3" y1="381.35" x2="396" y2="386.22" stroke="#1a1a1a" stroke-width="1.05" />
<line x1="289.3" y1="387.07" x2="396" y2="393.08" stroke="#1a1a1a" stroke-width="1.05" />
<line x1="289.3" y1="393.08" x2="396" y2="396.51" stroke="#1a1a1a" stroke-width="1.05" />
<line x1="289.3" y1="399.37" x2="396" y2="400.23" stroke="#1a1a1a" stroke-width="1.05" />
<line x1="289.3" y1="410.24" x2="396" y2="411.38" stroke="#1a1a1a" stroke-width="1.05" />
<line x1="289.3" y1="415.96" x2="396" y2="415.96" stroke="#1a1a1a" stroke-width="1.05" />
<line x1="289.3" y1="334.16" x2="396" y2="343.32" stroke="#1a1a1a" stroke-width="1.05" />
<line x1="289.3" y1="330.16" x2="396" y2="334.16" stroke="#1a1a1a" stroke-width="1.05" />
<line x1="275.7" y1="300.3" x2="275.7" y2="388.7" stroke="#333" stroke-width="1" />
<line x1="273.5" y1="300.3" x2="277.9" y2="300.3" stroke="#333" stroke-width="1" />
<line x1="273.5" y1="388.7" x2="277.9" y2="388.7" stroke="#333" stroke-width="1" />
<line x1="408.7" y1="337.9" x2="408.7" y2="394.8" stroke="#333" stroke-width="1" />
<line x1="406.5" y1="337.9" x2="410.9" y2="337.9" stroke="#333" stroke-width="1" />
<line x1="406.5" y1="394.8" x2="410.9" y2="394.8" stroke="#333" stroke-width="1" />
<line x1="275.7" y1="344.2" x2="408.7" y2="365.2" stroke="#000" stroke-width="2" />
<circle cx="275.7" cy="344.2" r="2.6" fill="#000" stroke="none" stroke-width="1"/>
<circle cx="408.7" cy="365.2" r="2.6" fill="#000" stroke="none" stroke-width="1"/>
<text x="408.7" y="336.62" font-size="9.5" text-anchor="middle" font-weight="normal" fill="#333" color="#333" >**</text>
<text x="463.7" y="240.62" font-size="10.6" text-anchor="start" font-weight="bold" fill="#111" color="#111" >F</text>
<line x1="489.4" y1="259" x2="489.4" y2="427.1" stroke="#222" stroke-width="1.1" />
<line x1="489.4" y1="426.6" x2="671.1" y2="426.6" stroke="#222" stroke-width="1.1" />
<line x1="486.4" y1="426.6" x2="489.4" y2="426.6" stroke="#222" stroke-width="1" />
<text x="481.4" y="429.26" font-size="7.4" text-anchor="end" font-weight="normal" fill="#333" color="#333" >0</text>
<line x1="487.8" y1="421" x2="489.4" y2="421" stroke="#222" stroke-width="0.8" />
<line x1="487.8" y1="415.4" x2="489.4" y2="415.4" stroke="#222" stroke-width="0.8" />
<line x1="487.8" y1="409.8" x2="489.4" y2="409.8" stroke="#222" stroke-width="0.8" />
<line x1="487.8" y1="404.2" x2="489.4" y2="404.2" stroke="#222" stroke-width="0.8" />
<line x1="486.4" y1="398.6" x2="489.4" y2="398.6" stroke="#222" stroke-width="1" />
<text x="481.4" y="401.26" font-size="7.4" text-anchor="end" font-weight="normal" fill="#333" color="#333" >10</text>
<line x1="487.8" y1="393" x2="489.4" y2="393" stroke="#222" stroke-width="0.8" />
<line x1="487.8" y1="387.4" x2="489.4" y2="387.4" stroke="#222" stroke-width="0.8" />
<line x1="487.8" y1="381.8" x2="489.4" y2="381.8" stroke="#222" stroke-width="0.8" />
<line x1="487.8" y1="376.2" x2="489.4" y2="376.2" stroke="#222" stroke-width="0.8" />
<line x1="486.4" y1="370.6" x2="489.4" y2="370.6" stroke="#222" stroke-width="1" />
<text x="481.4" y="373.26" font-size="7.4" text-anchor="end" font-weight="normal" fill="#333" color="#333" >20</text>
<line x1="487.8" y1="365" x2="489.4" y2="365" stroke="#222" stroke-width="0.8" />
<line x1="487.8" y1="359.4" x2="489.4" y2="359.4" stroke="#222" stroke-width="0.8" />
<line x1="487.8" y1="353.8" x2="489.4" y2="353.8" stroke="#222" stroke-width="0.8" />
<line x1="487.8" y1="348.2" x2="489.4" y2="348.2" stroke="#222" stroke-width="0.8" />
<line x1="486.4" y1="342.6" x2="489.4" y2="342.6" stroke="#222" stroke-width="1" />
<text x="481.4" y="345.26" font-size="7.4" text-anchor="end" font-weight="normal" fill="#333" color="#333" >30</text>
<line x1="487.8" y1="337" x2="489.4" y2="337" stroke="#222" stroke-width="0.8" />
<line x1="487.8" y1="331.4" x2="489.4" y2="331.4" stroke="#222" stroke-width="0.8" />
<line x1="487.8" y1="325.8" x2="489.4" y2="325.8" stroke="#222" stroke-width="0.8" />
<line x1="487.8" y1="320.2" x2="489.4" y2="320.2" stroke="#222" stroke-width="0.8" />
<line x1="486.4" y1="314.6" x2="489.4" y2="314.6" stroke="#222" stroke-width="1" />
<text x="481.4" y="317.26" font-size="7.4" text-anchor="end" font-weight="normal" fill="#333" color="#333" >40</text>
<line x1="487.8" y1="309" x2="489.4" y2="309" stroke="#222" stroke-width="0.8" />
<line x1="487.8" y1="303.4" x2="489.4" y2="303.4" stroke="#222" stroke-width="0.8" />
<line x1="487.8" y1="297.8" x2="489.4" y2="297.8" stroke="#222" stroke-width="0.8" />
<line x1="487.8" y1="292.2" x2="489.4" y2="292.2" stroke="#222" stroke-width="0.8" />
<line x1="486.4" y1="286.6" x2="489.4" y2="286.6" stroke="#222" stroke-width="1" />
<text x="481.4" y="289.26" font-size="7.4" text-anchor="end" font-weight="normal" fill="#333" color="#333" >50</text>
<line x1="487.8" y1="281" x2="489.4" y2="281" stroke="#222" stroke-width="0.8" />
<line x1="487.8" y1="275.4" x2="489.4" y2="275.4" stroke="#222" stroke-width="0.8" />
<line x1="487.8" y1="269.8" x2="489.4" y2="269.8" stroke="#222" stroke-width="0.8" />
<line x1="487.8" y1="264.2" x2="489.4" y2="264.2" stroke="#222" stroke-width="0.8" />
<line x1="486.4" y1="258.6" x2="489.4" y2="258.6" stroke="#222" stroke-width="1" />
<text x="481.4" y="261.26" font-size="7.4" text-anchor="end" font-weight="normal" fill="#333" color="#333" >60</text>
<line x1="489.4" y1="426.6" x2="489.4" y2="428.8" stroke="#222" stroke-width="0.9" />
<line x1="498.45" y1="426.6" x2="498.45" y2="428.1" stroke="#222" stroke-width="0.9" />
<line x1="507.5" y1="426.6" x2="507.5" y2="428.8" stroke="#222" stroke-width="0.9" />
<line x1="516.55" y1="426.6" x2="516.55" y2="428.1" stroke="#222" stroke-width="0.9" />
<line x1="525.6" y1="426.6" x2="525.6" y2="428.8" stroke="#222" stroke-width="0.9" />
<line x1="534.65" y1="426.6" x2="534.65" y2="428.1" stroke="#222" stroke-width="0.9" />
<line x1="543.7" y1="426.6" x2="543.7" y2="428.8" stroke="#222" stroke-width="0.9" />
<line x1="552.75" y1="426.6" x2="552.75" y2="428.1" stroke="#222" stroke-width="0.9" />
<line x1="561.8" y1="426.6" x2="561.8" y2="428.8" stroke="#222" stroke-width="0.9" />
<line x1="570.85" y1="426.6" x2="570.85" y2="428.1" stroke="#222" stroke-width="0.9" />
<line x1="579.9" y1="426.6" x2="579.9" y2="428.8" stroke="#222" stroke-width="0.9" />
<line x1="588.95" y1="426.6" x2="588.95" y2="428.1" stroke="#222" stroke-width="0.9" />
<line x1="598" y1="426.6" x2="598" y2="428.8" stroke="#222" stroke-width="0.9" />
<line x1="607.05" y1="426.6" x2="607.05" y2="428.1" stroke="#222" stroke-width="0.9" />
<line x1="616.1" y1="426.6" x2="616.1" y2="428.8" stroke="#222" stroke-width="0.9" />
<line x1="625.15" y1="426.6" x2="625.15" y2="428.1" stroke="#222" stroke-width="0.9" />
<line x1="634.2" y1="426.6" x2="634.2" y2="428.8" stroke="#222" stroke-width="0.9" />
<line x1="643.25" y1="426.6" x2="643.25" y2="428.1" stroke="#222" stroke-width="0.9" />
<line x1="652.3" y1="426.6" x2="652.3" y2="428.8" stroke="#222" stroke-width="0.9" />
<line x1="661.35" y1="426.6" x2="661.35" y2="428.1" stroke="#222" stroke-width="0.9" />
<line x1="670.4" y1="426.6" x2="670.4" y2="428.8" stroke="#222" stroke-width="0.9" />
<text x="489.4" y="439.46" font-size="7.4" text-anchor="middle" font-weight="normal" fill="#333" color="#333" >0</text>
<text x="525.6" y="439.46" font-size="7.4" text-anchor="middle" font-weight="normal" fill="#333" color="#333" >20</text>
<text x="561.8" y="439.46" font-size="7.4" text-anchor="middle" font-weight="normal" fill="#333" color="#333" >40</text>
<text x="598" y="439.46" font-size="7.4" text-anchor="middle" font-weight="normal" fill="#333" color="#333" >60</text>
<text x="634.2" y="439.46" font-size="7.4" text-anchor="middle" font-weight="normal" fill="#333" color="#333" >80</text>
<text x="670.4" y="439.46" font-size="7.4" text-anchor="middle" font-weight="normal" fill="#333" color="#333" >100</text>
<text x="580.3" y="451.98" font-size="8.6" text-anchor="middle" fill="#222" color="#222">% RANK<tspan font-size="5.5" dy="-3">+</tspan><tspan dy="3"> cells</tspan></text>
<text x="466.2" y="345.33" font-size="8.7" text-anchor="middle" font-weight="normal" fill="#222" color="#222" transform="rotate(-90 466.2 342.2)" >Denosumab effect on proliferation (%)</text>
<circle cx="522" cy="395.5" r="2.55" fill="#000" stroke="none" stroke-width="1"/>
<circle cx="528.75" cy="398.75" r="2.55" fill="#000" stroke="none" stroke-width="1"/>
<circle cx="533.25" cy="415.5" r="2.55" fill="#000" stroke="none" stroke-width="1"/>
<circle cx="530.5" cy="423.25" r="2.55" fill="#000" stroke="none" stroke-width="1"/>
<circle cx="535" cy="423.25" r="2.55" fill="#000" stroke="none" stroke-width="1"/>
<circle cx="547" cy="418.25" r="2.55" fill="#000" stroke="none" stroke-width="1"/>
<circle cx="552.5" cy="418.25" r="2.55" fill="#000" stroke="none" stroke-width="1"/>
<circle cx="554.5" cy="404.5" r="2.55" fill="#000" stroke="none" stroke-width="1"/>
<circle cx="535" cy="302.5" r="2.55" fill="#000" stroke="none" stroke-width="1"/>
<circle cx="592.2" cy="276.7" r="2.55" fill="#000" stroke="none" stroke-width="1"/>
<circle cx="583.6" cy="285.3" r="2.55" fill="#000" stroke="none" stroke-width="1"/>
<circle cx="632.3" cy="285.3" r="2.55" fill="#000" stroke="none" stroke-width="1"/>
<circle cx="617.4" cy="296.8" r="2.55" fill="#000" stroke="none" stroke-width="1"/>
<circle cx="600.1" cy="314.2" r="2.55" fill="#000" stroke="none" stroke-width="1"/>
<circle cx="586.7" cy="322.7" r="2.55" fill="#000" stroke="none" stroke-width="1"/>
<circle cx="558.1" cy="341.6" r="2.55" fill="#000" stroke="none" stroke-width="1"/>
<circle cx="563.9" cy="338.8" r="2.55" fill="#000" stroke="none" stroke-width="1"/>
<circle cx="601.9" cy="341.6" r="2.55" fill="#000" stroke="none" stroke-width="1"/>
<circle cx="584.6" cy="370.2" r="2.55" fill="#000" stroke="none" stroke-width="1"/>
<circle cx="587.8" cy="383.7" r="2.55" fill="#000" stroke="none" stroke-width="1"/>
<circle cx="599.3" cy="398.5" r="2.55" fill="#000" stroke="none" stroke-width="1"/>
<circle cx="596.3" cy="404.1" r="2.55" fill="#000" stroke="none" stroke-width="1"/>
<circle cx="558.5" cy="423.5" r="2.55" fill="#000" stroke="none" stroke-width="1"/>
<circle cx="564.1" cy="421.3" r="2.55" fill="#000" stroke="none" stroke-width="1"/>
<circle cx="583.7" cy="423.5" r="2.55" fill="#000" stroke="none" stroke-width="1"/>
<line x1="522" y1="414.5" x2="632.3" y2="310.2" stroke="#222" stroke-width="1.1" />
<text x="648.9" y="367.24" font-size="7.9" text-anchor="middle" font-weight="normal" fill="#333" color="#333" >Spearman r= 0.52</text>
<text x="649.4" y="377.54" font-size="7.9" text-anchor="middle" font-weight="normal" fill="#333" color="#333" >p=0.007</text>
<text x="649.5" y="386.74" font-size="7.9" text-anchor="middle" font-weight="normal" fill="#333" color="#333" >y = 0.62x - 7</text>
</svg></body></html>
